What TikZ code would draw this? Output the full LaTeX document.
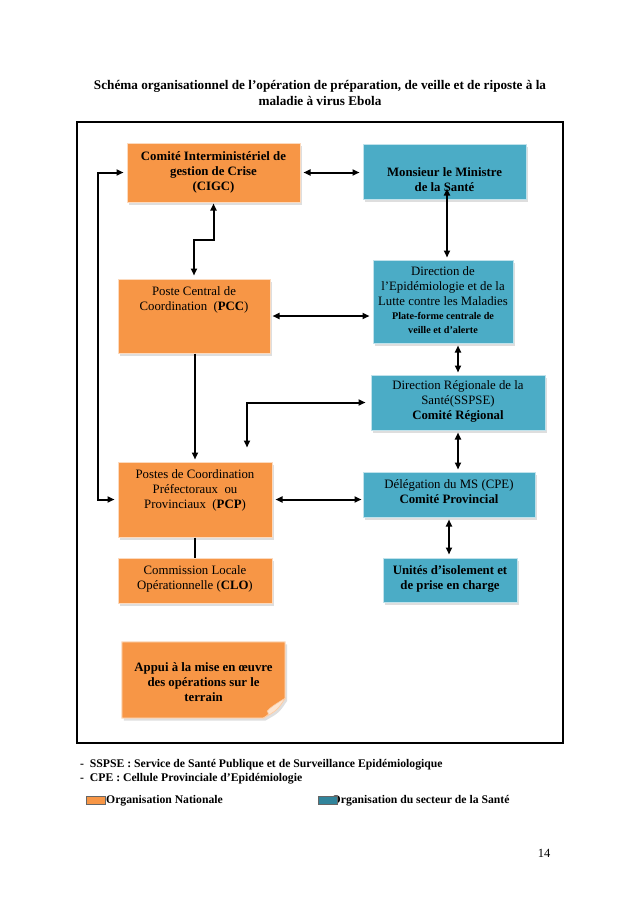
\documentclass[tikz,border=0pt]{standalone}
\usepackage{fontspec}
\setmainfont{Liberation Serif}
\usetikzlibrary{arrows.meta,shadows,calc}
\definecolor{orgorange}{HTML}{F79646}
\definecolor{orgblue}{HTML}{4BACC6}
\definecolor{legblue}{HTML}{31849B}
\begin{document}
\begin{tikzpicture}[x=1pt,y=-1pt,
  box/.style={rectangle, inner sep=0pt, line width=1pt,
    drop shadow={shadow xshift=2pt, shadow yshift=-2.5pt, fill=black!25}},
  obox/.style={box, fill=orgorange, draw=orgorange!35!white},
  bbox/.style={box, fill=orgblue, draw=orgblue!35!white},
  txt/.style={align=center, inner sep=0pt, font=\fontsize{12.8}{15}\selectfont},
  btxt/.style={txt, font=\fontsize{12.8}{15}\selectfont\bfseries},
  tip/.tip={Triangle[length=7pt,width=6pt]},
  arr/.style={line width=2pt, tip-tip},
  sarr/.style={line width=2pt, -tip},
  plain/.style={line width=2pt},
  note/.style={anchor=west, inner sep=0pt, font=\fontsize{11.7}{14}\selectfont\bfseries},
  lsq/.style={rectangle, inner sep=0pt, minimum width=19pt, minimum height=8pt, draw=black!60, line width=0.5pt}
]
\useasboundingbox (0,0) rectangle (638,903);
\fill[white] (0,0) rectangle (638,903);

% title
\node[btxt, font=\fontsize{13.2}{16}\selectfont\bfseries] (title) at (320,93)
  {Schéma organisationnel de l’opération de préparation, de veille et de riposte à la\\maladie à virus Ebola};

% frame
\node[draw, line width=2pt, minimum width=486pt, minimum height=621pt, inner sep=0pt] (frame) at (320,432.5) {};

% boxes
\node[obox, minimum width=173pt, minimum height=59pt] (cigc) at (213.5,172.5) {};
\node[btxt] (cigct) at (213.5,172) {Comité Interministériel de\\gestion de Crise\\(CIGC)};

\node[bbox, minimum width=163pt, minimum height=55pt] (min) at (444.5,171.5) {};
\node[btxt] (mint) at (444.5,179.5) {Monsieur le Ministre\\de la Santé};

\node[obox, minimum width=152pt, minimum height=74pt] (pcc) at (194,316) {};
\node[txt] (pcct) at (194,299.5) {Poste Central de\\Coordination~~(\textbf{PCC})};

\node[bbox, minimum width=140pt, minimum height=83pt] (delm) at (443,301.5) {};
\node[txt] (delmt) at (443,286) {Direction de\\l’Epidémiologie et de la\\Lutte contre les Maladies};
\node[txt, font=\fontsize{10.2}{14}\selectfont\bfseries] (delmt2) at (443,323) {Plate-forme centrale de\\veille et d’alerte};

\node[bbox, minimum width=174pt, minimum height=55pt] (drs) at (458,402.5) {};
\node[txt] (drst) at (458,401) {Direction Régionale de la\\Santé(SSPSE)\\\textbf{Comité Régional}};

\node[obox, minimum width=154pt, minimum height=75pt] (pcp) at (195,499.5) {};
\node[txt] (pcpt) at (195,490) {Postes de Coordination\\Préfectoraux~~ou\\Provinciaux~~(\textbf{PCP})};

\node[obox, minimum width=154pt, minimum height=45pt] (clo) at (195,580.5) {};
\node[txt] (clot) at (195,579) {Commission Locale\\Opérationnelle (\textbf{CLO})};

\node[bbox, minimum width=172pt, minimum height=45pt] (cpe) at (449,494.5) {};
\node[txt] (cpet) at (449,492) {Délégation du MS (CPE)\\\textbf{Comité Provincial}};

\node[bbox, minimum width=134pt, minimum height=44pt] (uni) at (450,580) {};
\node[btxt] (unit) at (450,579) {Unités d’isolement et\\de prise en charge};

% folded note
\node[minimum width=163pt, minimum height=76pt, inner sep=0pt] (appui) at (203.5,680) {};
\fill[orgorange, draw=orgorange!35!white, line width=1pt,
  drop shadow={shadow xshift=2pt, shadow yshift=-2.5pt, fill=black!25}]
  (appui.north west) -- (appui.north east) -- ([yshift=20pt]appui.south east)
  .. controls ([xshift=-8pt,yshift=8pt]appui.south east) .. ([xshift=-22pt]appui.south east)
  -- (appui.south west) -- cycle;
\fill[orgorange!25!white, draw=orgorange!50!white, line width=0.6pt]
  ([yshift=20pt]appui.south east) .. controls ([xshift=-10pt,yshift=14pt]appui.south east) and ([xshift=-16pt,yshift=10pt]appui.south east) .. ([xshift=-18pt,yshift=7pt]appui.south east)
  .. controls ([xshift=-16pt,yshift=4pt]appui.south east) .. ([xshift=-22pt]appui.south east)
  .. controls ([xshift=-8pt,yshift=8pt]appui.south east) .. cycle;
\node[btxt] (appuit) at (203.5,682.5) {Appui à la mise en œuvre\\des opérations sur le\\terrain};

% connectors
\draw[arr, shorten <=3pt, shorten >=3pt] (cigc.east) -- (cigc.east -| min.west);
\draw[arr, shorten >=2pt] ([xshift=2.5pt,yshift=11pt]min.south) -- ([xshift=2.5pt]min.south |- delm.north);
\draw[arr, shorten <=1pt, shorten >=3pt] (cigc.south) -- ++(0,37) -| (pcc.north);
\draw[arr, shorten <=2pt, shorten >=3pt] (pcc.east) -- (pcc.east -| delm.west);
\draw[arr, shorten <=2pt, shorten >=2pt] (drs.north |- delm.south) -- (drs.north);
\draw[sarr, shorten >=2pt] (pcp.north |- pcc.south) -- (pcp.north);
\draw[arr] ([xshift=-5pt]drs.west) -| ([xshift=52pt,yshift=14pt]pcp.north);
\draw[arr, shorten <=3pt, shorten >=1pt] (pcp.east) -- (pcp.east -| cpe.west);
\draw[arr, shorten <=2pt, shorten >=2pt] (drs.south) -- (drs.south |- cpe.north);
\draw[arr, shorten <=2pt, shorten >=3pt] (cpe.south) -- (cpe.south |- uni.north);
\draw[plain] (pcp.south) -- (clo.north);
\draw[arr] ([xshift=-3pt]cigc.west) -- ++(-26,0) |- ([xshift=-3pt]pcp.west);

% notes
\node[note] (n1) at (80,765) {-\ \ SSPSE : Service de Santé Publique et de Surveillance Epidémiologique};
\node[note] (n2) at (80,779) {-\ \ CPE : Cellule Provinciale d’Epidémiologie};

% legend
\node[lsq, fill=orgorange] (lego) at (95.5,800.5) {};
\node[note] (legot) at (106,800.5) {Organisation Nationale};
\node[note] (legbt) at (331.5,800.5) {Organisation du secteur de la Santé};
\node[lsq, fill=legblue] (legb) at (327.5,800.5) {};

% page number
\node[inner sep=0pt, font=\fontsize{12.5}{14}\selectfont] (page) at (544,853) {14};
\end{tikzpicture}
\end{document}
